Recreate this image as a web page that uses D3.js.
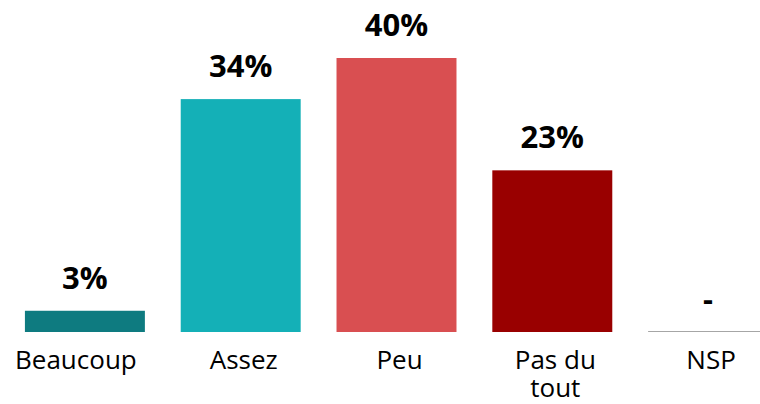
<!DOCTYPE html>
<html>
<head>
<meta charset="utf-8">
<script src="https://cdn.jsdelivr.net/npm/d3@7"></script>
<style>
  html, body { margin: 0; padding: 0; background: #fff; }
  svg { display: block; font-family: "Open Sans", "Liberation Sans", sans-serif; }
</style>
</head>
<body>
<svg id="chart" width="760" height="404"></svg>
<script>
const CATEGORIES = ["Beaucoup", "Assez", "Peu", "Pas du tout", "NSP"];
const VALUES = [3.1, 34, 40, 23.6, 0];
const VALUE_LABELS = ["3%", "34%", "40%", "23%", "-"];
const COLORS = ["#0e7b80", "#14b0b7", "#d94f51", "#990000", "#a6a6a6"];
// line breaks as they appear under the axis
const CATEGORY_LINES = [["Beaucoup"], ["Assez"], ["Peu"], ["Pas du", "tout"], ["NSP"]];

const width = 760;
const height = 404;
const baseline = 332;

const svg = d3.select("#chart");

const x = d3.scaleBand()
  .domain(CATEGORIES)
  .range([7, 786])
  .paddingInner(0.23)
  .paddingOuter(0.115);

const y = d3.scaleLinear()
  .domain([0, 40])
  .range([baseline, 58]);

const data = CATEGORIES.map((c, i) => ({
  cat: c, value: VALUES[i], label: VALUE_LABELS[i], color: COLORS[i], lines: CATEGORY_LINES[i]
}));

// bars
svg.append("g").selectAll("rect")
  .data(data.filter(d => d.value > 0))
  .join("rect")
  .attr("x", d => x(d.cat))
  .attr("y", d => y(d.value))
  .attr("width", x.bandwidth())
  .attr("height", d => baseline - y(d.value))
  .attr("fill", d => d.color);

// zero-height bar shows as a thin grey line
svg.append("g").selectAll("line")
  .data(data.filter(d => d.value === 0))
  .join("line")
  .attr("x1", d => x(d.cat))
  .attr("x2", d => x(d.cat) + x.bandwidth())
  .attr("y1", baseline - 0.5)
  .attr("y2", baseline - 0.5)
  .attr("stroke", d => d.color)
  .attr("stroke-width", 1);

// value labels
svg.append("g").selectAll("text")
  .data(data)
  .join("text")
  .attr("x", d => x(d.cat) + x.bandwidth() / 2)
  .attr("y", d => y(d.value) - 22)
  .attr("text-anchor", "middle")
  .attr("font-size", 31)
  .attr("font-weight", "bold")
  .attr("fill", "#000")
  .text(d => d.label);

// category labels -- the first one hugs the left edge like in the original
const catLabels = svg.append("g").selectAll("text")
  .data(data)
  .join("text")
  .attr("y", 369)
  .attr("text-anchor", "middle")
  .attr("font-size", 26)
  .attr("fill", "#000");

catLabels.selectAll("tspan")
  .data((d, i) => d.lines.map(t => ({ t, cx: x(d.cat) + x.bandwidth() / 2 - (i === 0 ? 9 : 0) + (i > 0 ? 3 : 0) })))
  .join("tspan")
  .attr("x", d => d.cx)
  .attr("dy", (d, i) => i === 0 ? 0 : 28)
  .text(d => d.t);
</script>
</body>
</html>
